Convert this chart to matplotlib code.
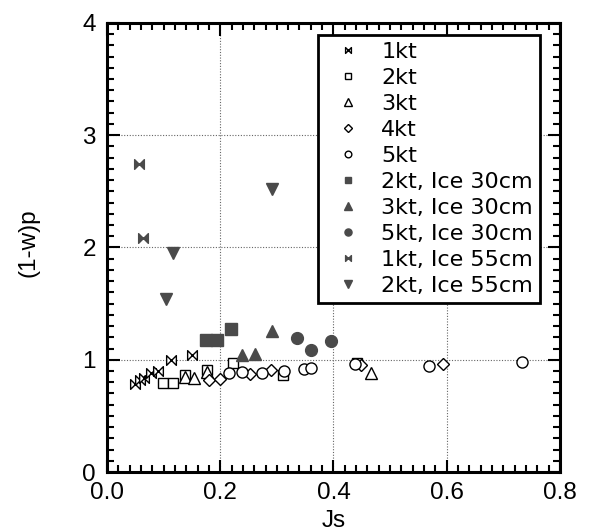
import matplotlib
matplotlib.use("Agg")
import matplotlib.pyplot as plt
from matplotlib.path import Path
from matplotlib.ticker import MultipleLocator

plt.rcParams["font.family"] = ["Liberation Sans", "DejaVu Sans"]

# data
js_1kt = [0.049, 0.058, 0.065, 0.078, 0.090, 0.113, 0.151]
cp_1kt = [0.78, 0.82, 0.84, 0.88, 0.90, 1.00, 1.04]

js_2kt = [0.099, 0.116, 0.138, 0.177, 0.222, 0.311, 0.441]
cp_2kt = [0.79, 0.79, 0.86, 0.91, 0.97, 0.86, 0.97]

js_3kt = [0.138, 0.154, 0.176, 0.466]
cp_3kt = [0.85, 0.84, 0.89, 0.88]

js_4kt = [0.181, 0.199, 0.252, 0.289, 0.448, 0.594]
cp_4kt = [0.82, 0.83, 0.87, 0.91, 0.95, 0.96]

js_5kt = [0.215, 0.238, 0.274, 0.313, 0.348, 0.361, 0.438, 0.569, 0.733]
cp_5kt = [0.88, 0.89, 0.88, 0.90, 0.92, 0.93, 0.96, 0.94, 0.98]

js_2kt_i30 = [0.175, 0.194, 0.219]
cp_2kt_i30 = [1.18, 1.18, 1.27]

js_3kt_i30 = [0.239, 0.261, 0.291]
cp_3kt_i30 = [1.04, 1.05, 1.26]

js_5kt_i30 = [0.335, 0.361, 0.395]
cp_5kt_i30 = [1.19, 1.09, 1.17]

js_1kt_i55 = [0.057, 0.063]
cp_1kt_i55 = [2.74, 2.08]

js_2kt_i55 = [0.105, 0.116, 0.291]
cp_2kt_i55 = [1.54, 1.95, 2.52]

bowtie = Path([(-1, -1), (-1, 1), (1, -1), (1, 1), (-1, -1)],
              [Path.MOVETO, Path.LINETO, Path.LINETO, Path.LINETO, Path.CLOSEPOLY])

fill = "#4a4a4a"

fig = plt.figure(figsize=(5.91, 5.31), dpi=100)
ax = fig.add_axes([0.181, 0.111, 0.7665, 0.846])

open_kw = dict(linestyle="none", markerfacecolor="white", markeredgecolor="black",
               markeredgewidth=1.0)
fill_kw = dict(linestyle="none", markerfacecolor=fill, markeredgecolor=fill,
               markeredgewidth=1.0)

ax.plot(js_1kt, cp_1kt, marker=bowtie, markersize=7, label="1kt", **open_kw)
ax.plot(js_2kt, cp_2kt, marker="s", markersize=7.5, label="2kt", **open_kw)
ax.plot(js_3kt, cp_3kt, marker="^", markersize=8.5, label="3kt", **open_kw)
ax.plot(js_4kt, cp_4kt, marker="D", markersize=6.5, label="4kt", **open_kw)
ax.plot(js_5kt, cp_5kt, marker="o", markersize=8, label="5kt", **open_kw)
ax.plot(js_2kt_i30, cp_2kt_i30, marker="s", markersize=8, label="2kt, Ice 30cm", **fill_kw)
ax.plot(js_3kt_i30, cp_3kt_i30, marker="^", markersize=9, label="3kt, Ice 30cm", **fill_kw)
ax.plot(js_5kt_i30, cp_5kt_i30, marker="o", markersize=8.5, label="5kt, Ice 30cm", **fill_kw)
ax.plot(js_1kt_i55, cp_1kt_i55, marker=bowtie, markersize=7, label="1kt, Ice 55cm", **fill_kw)
ax.plot(js_2kt_i55, cp_2kt_i55, marker="v", markersize=9, label="2kt, Ice 55cm", **fill_kw)

ax.set_xlim(0, 0.8)
ax.set_ylim(0, 4)
ax.xaxis.set_major_locator(MultipleLocator(0.2))
ax.xaxis.set_minor_locator(MultipleLocator(0.02))
ax.yaxis.set_major_locator(MultipleLocator(1))
ax.yaxis.set_minor_locator(MultipleLocator(0.1))
ax.set_xticklabels([f"{v:.1f}" for v in ax.get_xticks()])
ax.tick_params(which="both", direction="in", top=True, right=True, width=1.5, labelsize=17.5)
ax.tick_params(which="major", length=9)
ax.tick_params(which="minor", length=5)
ax.tick_params(axis="x", pad=7)
ax.tick_params(axis="y", pad=8)
ax.grid(True, which="major", linestyle=(0, (1, 1.5)), color="#666666", linewidth=0.8)
for s in ax.spines.values():
    s.set_linewidth(2.2)

ax.set_xlabel("Js", fontsize=17.5)
ax.set_ylabel("(1-w)p", fontsize=17.5)
ax.xaxis.set_label_coords(0.5, -0.085)
ax.yaxis.set_label_coords(-0.15, 0.51)

leg = ax.legend(loc="upper right", bbox_to_anchor=(0.956, 0.973),
                prop={"family": "DejaVu Sans", "size": 16},
                markerscale=0.6, fancybox=False, framealpha=1, edgecolor="black",
                handlelength=2.1, handletextpad=0.43, labelspacing=0.27,
                borderpad=0.32, borderaxespad=0)
leg.get_frame().set_linewidth(2)

fig.savefig("out.png", dpi=100)
